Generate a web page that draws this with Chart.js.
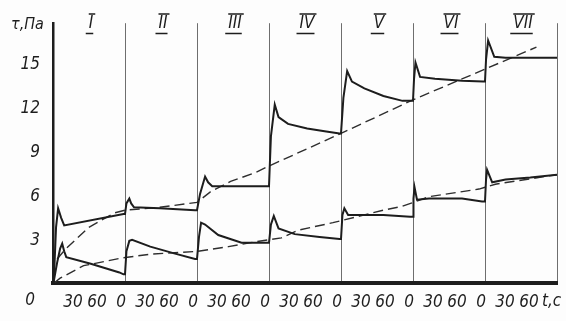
<!DOCTYPE html>
<html>
<head>
<meta charset="utf-8">
<script src="https://cdn.jsdelivr.net/npm/chart.js@4.4.1/dist/chart.umd.min.js"></script>
<style>
  html, body { margin: 0; padding: 0; background: #fdfdfd; }
  #wrap { width: 566px; height: 321px; }
</style>
</head>
<body>
<div id="wrap"><canvas id="chart" width="566" height="321"></canvas></div>
<script>
/* ------------------------------
   Data: stress tau (Pa) vs time t (s), seven 90 s stages
------------------------------ */
const stages = ['I', 'II', 'III', 'IV', 'V', 'VI', 'VII'];
const panelSeconds = 90;
const yTicks = [3, 6, 9, 12, 15];

// upper solid curve
const upperT = [1.3, 3.8, 6.4, 10.2, 14.0, 88.1,
  90, 91.8, 95.4, 97.7, 101.3, 133.5, 177.6,
  180, 183.8, 190.1, 193.9, 199.0, 232, 267.5,
  270, 272.4, 277.2, 281.9, 293.8, 317.7, 341.5, 358.2,
  360, 363, 367.7, 373.7, 389.2, 413, 436.9, 448.8,
  450, 451.3, 453.1, 458.8, 477.5, 511.3, 537.5,
  540, 541.3, 543.9, 551.6, 565.7, 630];
const upperTau = [0.52, 3.79, 5.09, 4.44, 3.92, 4.70,
  4.70, 5.42, 5.75, 5.42, 5.16, 5.09, 4.96,
  4.96, 6.07, 7.25, 6.86, 6.60, 6.60, 6.60,
  6.60, 9.99, 12.15, 11.30, 10.84, 10.52, 10.32, 10.19,
  10.19, 12.61, 14.44, 13.72, 13.26, 12.74, 12.41, 12.41,
  12.41, 13.91, 15.02, 14.04, 13.91, 13.78, 13.72,
  13.72, 15.22, 16.52, 15.41, 15.35, 15.35];

// lower solid curve
const lowerT = [0.6, 5.1, 8.9, 11.5, 14.0, 16.6, 47.2, 83, 88.1,
  90, 91.8, 95.4, 98.9, 121.6, 151.4, 177.6,
  180, 182.5, 185.1, 190.1, 206.6, 235.7, 267.5,
  270, 272.4, 276, 281.9, 302.2, 333.2, 358.2,
  360, 361.8, 364.2, 368.9, 413, 446.4,
  450, 450.6, 451.9, 455, 470, 511.3, 536.3,
  540, 541.3, 542.6, 549, 565.7, 596.6, 630];
const lowerTau = [0, 1.37, 2.35, 2.68, 2.16, 1.76, 1.31, 0.72, 0.59,
  0.59, 2.16, 2.87, 2.94, 2.48, 2.02, 1.63,
  1.63, 3.14, 4.11, 3.98, 3.27, 2.74, 2.74,
  2.74, 3.98, 4.57, 3.72, 3.33, 3.14, 3.00,
  3.00, 4.64, 5.09, 4.64, 4.64, 4.51,
  4.51, 5.75, 6.53, 5.68, 5.75, 5.75, 5.55,
  5.55, 7.05, 7.71, 6.86, 7.05, 7.18, 7.38];

// dashed trend lines
const dashUpT = [5.1, 15.3, 44.7, 76.6, 90, 133.5, 180, 196.7, 222, 252.4, 270, 360, 450, 540, 604.3];
const dashUpTau = [1.63, 2.29, 3.79, 4.77, 4.96, 5.16, 5.49, 6.21, 6.92, 7.51, 7.97, 10.19, 12.48, 14.57, 16.07];

const dashLowT = [1.3, 8.9, 38.3, 85.5, 121, 181.3, 219.3, 253.5, 285.5, 305.8, 349.9, 413, 436.9, 470, 532.5, 552.9, 630];
const dashLowTau = [0, 0.33, 1.18, 1.70, 1.96, 2.16, 2.48, 2.81, 3.07, 3.59, 4.11, 4.96, 5.23, 5.88, 6.40, 6.73, 7.38];

/* ------------------------------
   Helpers
------------------------------ */
const INK = '#1d1d1d';
const FAMILY = "'Liberation Sans Narrow', 'DejaVu Sans Condensed', sans-serif";
const tMax = panelSeconds * stages.length;

function zip(xs, ys) {
  return xs.map((x, i) => ({ x, y: ys[i] }));
}

function solid(data) {
  return { data, borderColor: INK, borderWidth: 2, pointRadius: 0, tension: 0, fill: false };
}

function dashed(data) {
  return { data, borderColor: '#2e2e2e', borderWidth: 1.4, borderDash: [10, 5], pointRadius: 0, tension: 0, fill: false };
}

// texts drawn around the plot: stage numerals, axis names, origin zero
const annotations = {
  id: 'annotations',
  afterDraw(chart) {
    const { ctx, chartArea, scales: { x } } = chart;
    ctx.save();
    ctx.fillStyle = INK;
    ctx.strokeStyle = INK;

    // stage numerals with bars above and below
    ctx.font = 'italic 17px ' + FAMILY;
    ctx.textAlign = 'center';
    ctx.textBaseline = 'middle';
    ctx.lineWidth = 1.5;
    stages.forEach((s, i) => {
      const cx = x.getPixelForValue(panelSeconds * (i + 0.5)) + 2;
      const w = ctx.measureText(s).width;
      ctx.fillText(s, cx, 24);
      ctx.beginPath();
      ctx.moveTo(cx - w / 2, 14);
      ctx.lineTo(cx + w / 2 + 2, 14);
      ctx.moveTo(cx - w / 2 - 3, 33.5);
      ctx.lineTo(cx + w / 2, 33.5);
      ctx.stroke();
    });

    // axis names
    ctx.font = 'italic 16px ' + FAMILY;
    ctx.textAlign = 'left';
    ctx.textBaseline = 'alphabetic';
    ctx.fillText('τ,Па', 11, 29);

    ctx.font = 'italic 17px ' + FAMILY;
    ctx.textBaseline = 'top';
    ctx.fillText('t,c', x.getPixelForValue(600) + 9, chartArea.bottom + 10);

    // shared origin
    ctx.textAlign = 'center';
    ctx.fillText('0', chartArea.left - 23, chartArea.bottom + 9);
    ctx.restore();
  }
};

/* ------------------------------
   Chart
------------------------------ */
new Chart(document.getElementById('chart'), {
  type: 'line',
  data: {
    datasets: [
      solid(zip(upperT, upperTau)),
      solid(zip(lowerT, lowerTau)),
      dashed(zip(dashUpT, dashUpTau)),
      dashed(zip(dashLowT, dashLowTau))
    ]
  },
  options: {
    responsive: false,
    animation: false,
    layout: { padding: { top: 12, right: 3, left: 0, bottom: 0 } },
    plugins: {
      legend: { display: false },
      tooltip: { enabled: false }
    },
    scales: {
      x: {
        type: 'linear',
        min: 0,
        max: tMax,
        afterBuildTicks: scale => {
          const ticks = [];
          for (let v = 30; v <= tMax; v += 30) ticks.push({ value: v });
          scale.ticks = ticks;
        },
        afterFit: scale => { scale.height = 38; },
        grid: {
          drawTicks: false,
          lineWidth: 1,
          color: ctx => (ctx.tick && ctx.tick.value % panelSeconds === 0) ? '#6e6e6e' : 'rgba(0,0,0,0)'
        },
        border: { color: INK, width: 4 },
        ticks: {
          autoSkip: false,
          maxRotation: 0,
          padding: 9,
          labelOffset: -4,
          color: INK,
          font: { family: FAMILY, size: 17, style: 'italic' },
          callback: v => (v >= tMax ? '' : String(v % panelSeconds))
        }
      },
      y: {
        min: 0,
        max: 17.7,
        afterBuildTicks: scale => { scale.ticks = yTicks.map(v => ({ value: v })); },
        afterFit: scale => { scale.width = 53; },
        grid: { drawTicks: false, color: 'rgba(0,0,0,0)' },
        border: { color: INK, width: 2.5 },
        ticks: {
          padding: 13,
          labelOffset: 2,
          color: INK,
          font: { family: FAMILY, size: 17, style: 'italic' }
        }
      }
    }
  },
  plugins: [annotations]
});
</script>
</body>
</html>
